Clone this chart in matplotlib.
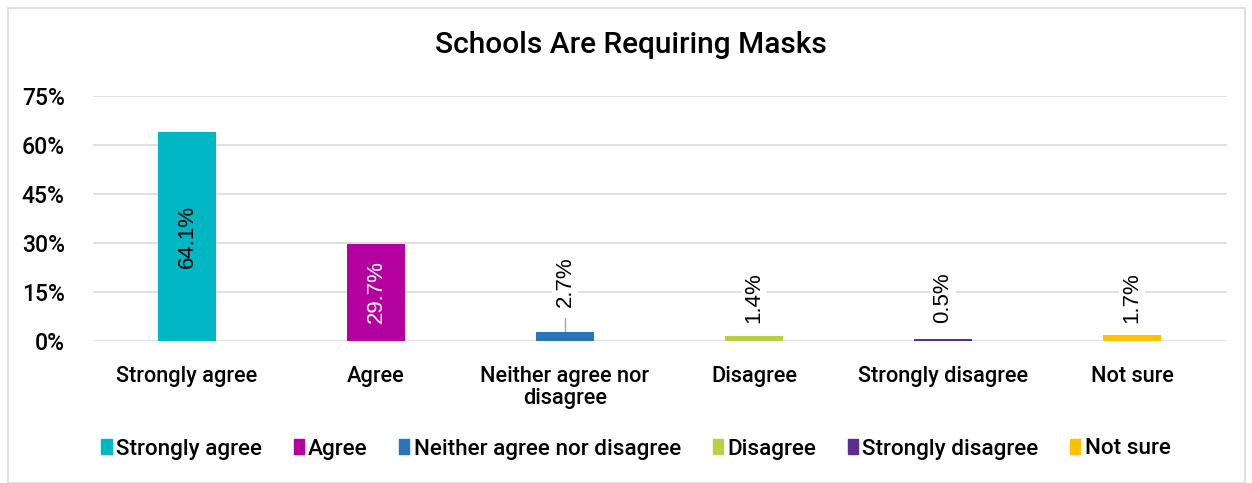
import matplotlib
matplotlib.use("Agg")
import matplotlib.pyplot as plt
from matplotlib.patches import Rectangle

categories = ["Strongly agree", "Agree", "Neither agree nor disagree", "Disagree",
              "Strongly disagree", "Not sure"]
tick_labels = ["Strongly agree", "Agree", "Neither agree nor\ndisagree", "Disagree",
               "Strongly disagree", "Not sure"]
values = [64.1, 29.7, 2.7, 1.4, 0.5, 1.7]
colors = ["#00B7C3", "#B4009E", "#2A74B8", "#B9CF48", "#5C2D91", "#FFC000"]
yticks = [0, 15, 30, 45, 60, 75]

FONT = "Roboto"
FW = 500
W, H = 1252, 483
fig = plt.figure(figsize=(W / 100, H / 100), dpi=100)
fig.patches.append(Rectangle((8 / W, 0), (1245 - 8) / W, (H - 8) / H,
                             transform=fig.transFigure, fill=False,
                             edgecolor="#D9D9D9", linewidth=1.2))

ax = fig.add_axes([92.5 / W, 1 - 341 / H, (1226.5 - 92.5) / W, (341 - 96) / H])
x = list(range(len(categories)))
bars = ax.bar(x, values, width=0.31, color=colors, zorder=2)
ax.set_xlim(-0.5, len(categories) - 0.5)
ax.set_ylim(0, 75)
ax.set_yticks(yticks)
ax.set_yticklabels([f"{t}%" for t in yticks], fontsize=16.5, fontfamily=FONT, fontweight=FW)
ax.set_xticks(x)
ax.set_xticklabels(tick_labels, fontsize=15.7, fontfamily=FONT, fontweight=FW,
                   linespacing=1.05)
ax.tick_params(axis="x", length=0, pad=18)
ax.tick_params(axis="y", length=0, pad=20)
ax.grid(axis="y", color="#D9D9D9", linewidth=1.2, zorder=0)
for s in ax.spines.values():
    s.set_visible(False)

label_y = [32.0, 15.0, None, None, None, None]
label_colors = ["black", "white", "black", "black", "black", "black"]
for i, (b, v) in enumerate(zip(bars, values)):
    txt = f"{v:.1f}%"
    if label_y[i] is not None:
        ax.text(i, label_y[i], txt, rotation=90, ha="center", va="center",
                fontsize=16, fontfamily="Liberation Sans", color=label_colors[i], zorder=3)
    else:
        if i == 2:
            y0 = 10.4
            ax.plot([i, i], [v, 7.0], color="#A6A6A6", linewidth=1, zorder=1)
        else:
            y0 = 5.5
        ax.text(i, y0, txt, rotation=90, ha="center", va="bottom",
                fontsize=16, fontfamily="Liberation Sans", color="black", zorder=3,
                bbox=dict(facecolor="white", edgecolor="none", pad=2))

fig.text((432 + 830) / 2 / W, 1 - 45 / H, "Schools Are Requiring Masks",
         ha="center", va="center", fontsize=21.5, fontfamily=FONT, fontweight=FW)

handles = [Rectangle((0, 0), 1, 1, color=c) for c in colors]
fig.legend(handles, categories, loc="center", bbox_to_anchor=(0.5 + 10 / W, 1 - 449 / H),
           ncol=6, frameon=False, prop={"family": FONT, "size": 16.2, "weight": FW},
           handlelength=0.45, handleheight=0.65, handletextpad=0.2, columnspacing=1.4)

fig.savefig("out.png", dpi=100)
